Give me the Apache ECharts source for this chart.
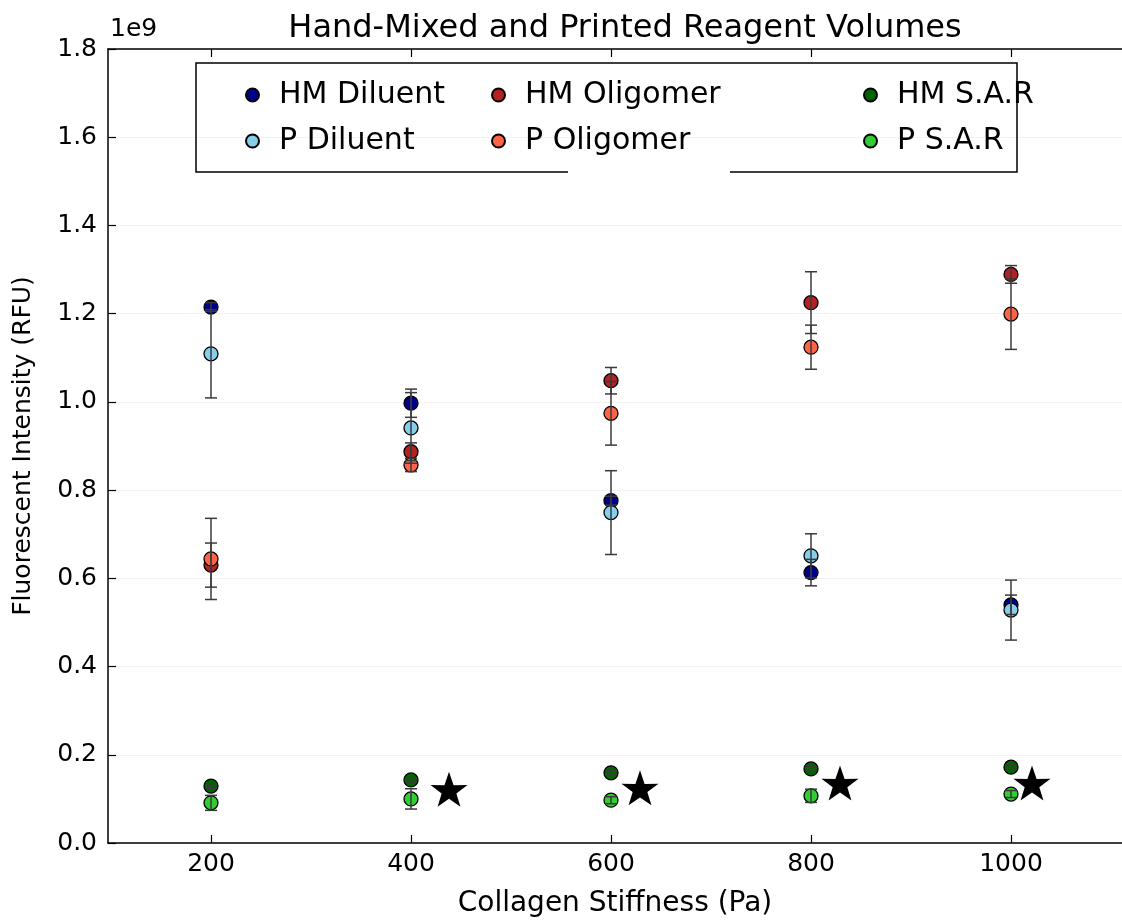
<!DOCTYPE html>
<html><head><meta charset="utf-8">
<script src="https://cdn.jsdelivr.net/npm/echarts@6/dist/echarts.min.js"></script>
<style>html,body{margin:0;padding:0;background:#fff}#c{width:1122px;height:921px}</style>
</head><body><div id="c"></div>
<script>
// Data (y values in units of 1e9 RFU)
var stiffness = [200, 400, 600, 800, 1000];
var xTicks = [200, 400, 600, 800, 1000];
var yTicks = [0.0, 0.2, 0.4, 0.6, 0.8, 1.0, 1.2, 1.4, 1.6, 1.8];

var hmDiluent     = [1.215, 0.997, 0.776, 0.613, 0.540];
var hmDiluentErr  = [0.010, 0.032, 0.010, 0.030, 0.022];
var pDiluent      = [1.109, 0.941, 0.749, 0.651, 0.528];
var pDiluentErr   = [0.100, 0.080, 0.095, 0.050, 0.068];
var hmOligomer    = [0.630, 0.887, 1.048, 1.225, 1.289];
var hmOligomerErr = [0.050, 0.020, 0.030, 0.070, 0.020];
var pOligomer     = [0.644, 0.857, 0.974, 1.124, 1.199];
var pOligomerErr  = [0.092, 0.015, 0.072, 0.050, 0.080];
var hmSAR         = [0.129, 0.143, 0.159, 0.168, 0.172];
var hmSARErr      = [0.005, 0.005, 0.005, 0.005, 0.005];
var pSAR          = [0.091, 0.100, 0.097, 0.107, 0.111];
var pSARErr       = [0.017, 0.023, 0.008, 0.015, 0.008];

var starX = [438, 629, 829, 1021];
var starY = [0.122, 0.125, 0.136, 0.136];

var seriesDefs = [
  {name: 'HM Diluent',  vals: hmDiluent,  err: hmDiluentErr,  color: '#00008b'},
  {name: 'P Diluent',   vals: pDiluent,   err: pDiluentErr,   color: '#87ceeb'},
  {name: 'HM Oligomer', vals: hmOligomer, err: hmOligomerErr, color: '#b22222'},
  {name: 'P Oligomer',  vals: pOligomer,  err: pOligomerErr,  color: '#ff6347'},
  {name: 'HM S.A.R',    vals: hmSAR,      err: hmSARErr,      color: '#006400'},
  {name: 'P S.A.R',     vals: pSAR,       err: pSARErr,       color: '#32cd32'}
];

var FONT = 'DejaVu Sans';
var chart = echarts.init(document.getElementById('c'), null, {renderer: 'canvas'});

var series = [];
seriesDefs.forEach(function (d, i) {
  series.push({
    name: d.name, type: 'scatter', z: 2 + i * 0.01,
    symbol: 'circle', symbolSize: 14,
    itemStyle: {color: d.color, borderColor: '#000', borderWidth: 1.3, opacity: 1},
    data: stiffness.map(function (x, k) { return [x, d.vals[k]]; })
  });
});
seriesDefs.forEach(function (d) {
  series.push({
    type: 'custom', z: 5, silent: true,
    renderItem: function (params, api) {
      var x = api.value(0), lo = api.value(1), hi = api.value(2);
      var p1 = api.coord([x, lo]), p2 = api.coord([x, hi]);
      var w = 6;
      var st = {stroke: '#3a3a3a', lineWidth: 1.5, fill: null};
      return {type: 'group', children: [
        {type: 'line', shape: {x1: p1[0], y1: p1[1], x2: p2[0], y2: p2[1]}, style: st},
        {type: 'line', shape: {x1: p1[0]-w, y1: p1[1], x2: p1[0]+w, y2: p1[1]}, style: st},
        {type: 'line', shape: {x1: p2[0]-w, y1: p2[1], x2: p2[0]+w, y2: p2[1]}, style: st}
      ]};
    },
    data: stiffness.map(function (x, k) { return [x, d.vals[k] - d.err[k], d.vals[k] + d.err[k]]; })
  });
});
series.push({
  name: 'star', type: 'scatter', z: 6, silent: true,
  symbol: 'path://M50,0 L61.8,35.1 L97.6,34.5 L68.9,56.1 L79.4,90.5 L50,70 L20.6,90.5 L31.1,56.1 L2.4,34.5 L38.2,35.1 Z',
  symbolSize: [37, 35],
  itemStyle: {color: '#000', opacity: 1},
  data: starX.map(function (x, k) { return [x, starY[k]]; })
});

var legendPos = [
  {name: 'HM Diluent', left: 245, top: 80},
  {name: 'P Diluent', left: 245, top: 126},
  {name: 'HM Oligomer', left: 491, top: 80},
  {name: 'P Oligomer', left: 491, top: 126},
  {name: 'HM S.A.R', left: 863, top: 80},
  {name: 'P S.A.R', left: 863, top: 126}
];
var legends = legendPos.map(function (l) {
  return {
    data: [l.name], left: l.left, top: l.top, padding: 0,
    itemWidth: 13, itemHeight: 13, icon: 'circle',
    selectedMode: false,
    textStyle: {fontFamily: FONT, fontSize: 30, color: '#000', lineHeight: 30,
                padding: [0, 0, 0, 15]}
  };
});

var option = {
  animation: false,
  backgroundColor: '#fff',
  title: {
    text: 'Hand-Mixed and Printed Reagent Volumes',
    left: 620, top: 8, textAlign: 'center',
    textStyle: {fontFamily: FONT, fontSize: 32, fontWeight: 'normal', color: '#000'}
  },
  legend: legends,
  grid: {left: 108, top: 49, width: 1014, height: 794, containLabel: false, outerBoundsMode: 'none'},
  xAxis: [{
    type: 'value', min: 97, max: 1111, position: 'bottom',
    name: 'Collagen Stiffness (Pa)', nameLocation: 'middle', nameGap: 47,
    nameTextStyle: {fontFamily: FONT, fontSize: 28, color: '#000'},
    axisLine: {show: true, onZero: false, lineStyle: {color: '#000', width: 1.5}},
    axisTick: {show: true, inside: true, length: 8, customValues: xTicks, lineStyle: {color: '#000', width: 1.2}},
    axisLabel: {customValues: xTicks, fontFamily: FONT, fontSize: 25, color: '#000', margin: 9,
                formatter: function (v) { return String(v); }},
    splitLine: {show: false}
  }, {
    type: 'value', min: 97, max: 1111, position: 'top',
    axisLine: {show: true, onZero: false, lineStyle: {color: '#000', width: 1.5}},
    axisTick: {show: true, inside: true, length: 8, customValues: xTicks, lineStyle: {color: '#000', width: 1.2}},
    axisLabel: {show: false},
    splitLine: {show: false}
  }],
  yAxis: [{
    type: 'value', min: 0, max: 1.8, interval: 0.2,
    name: 'Fluorescent Intensity (RFU)', nameLocation: 'middle', nameGap: 72,
    nameTextStyle: {fontFamily: FONT, fontSize: 25, color: '#000'},
    axisLine: {show: true, lineStyle: {color: '#000', width: 1.5}},
    axisTick: {show: true, inside: true, length: 8, lineStyle: {color: '#000', width: 1.2}},
    axisLabel: {fontFamily: FONT, fontSize: 25, color: '#000', margin: 11,
                formatter: function (v) { return v.toFixed(1); }},
    splitLine: {show: true, lineStyle: {color: '#f2f2f2', width: 1}}
  }],
  graphic: [
    {type: 'text', left: 110, top: 17, style: {text: '1e9', font: '25px "DejaVu Sans"', fill: '#000'}},
    {type: 'rect', shape: {x: 196, y: 63, width: 821, height: 109},
     style: {fill: 'rgba(255,255,255,0)', stroke: '#000', lineWidth: 1.5}, z: 10, silent: true},
    {type: 'rect', shape: {x: 568, y: 165, width: 162, height: 11},
     style: {fill: '#fff'}, z: 11, silent: true}
  ],
  series: series
};
chart.setOption(option);
</script>
</body></html>
